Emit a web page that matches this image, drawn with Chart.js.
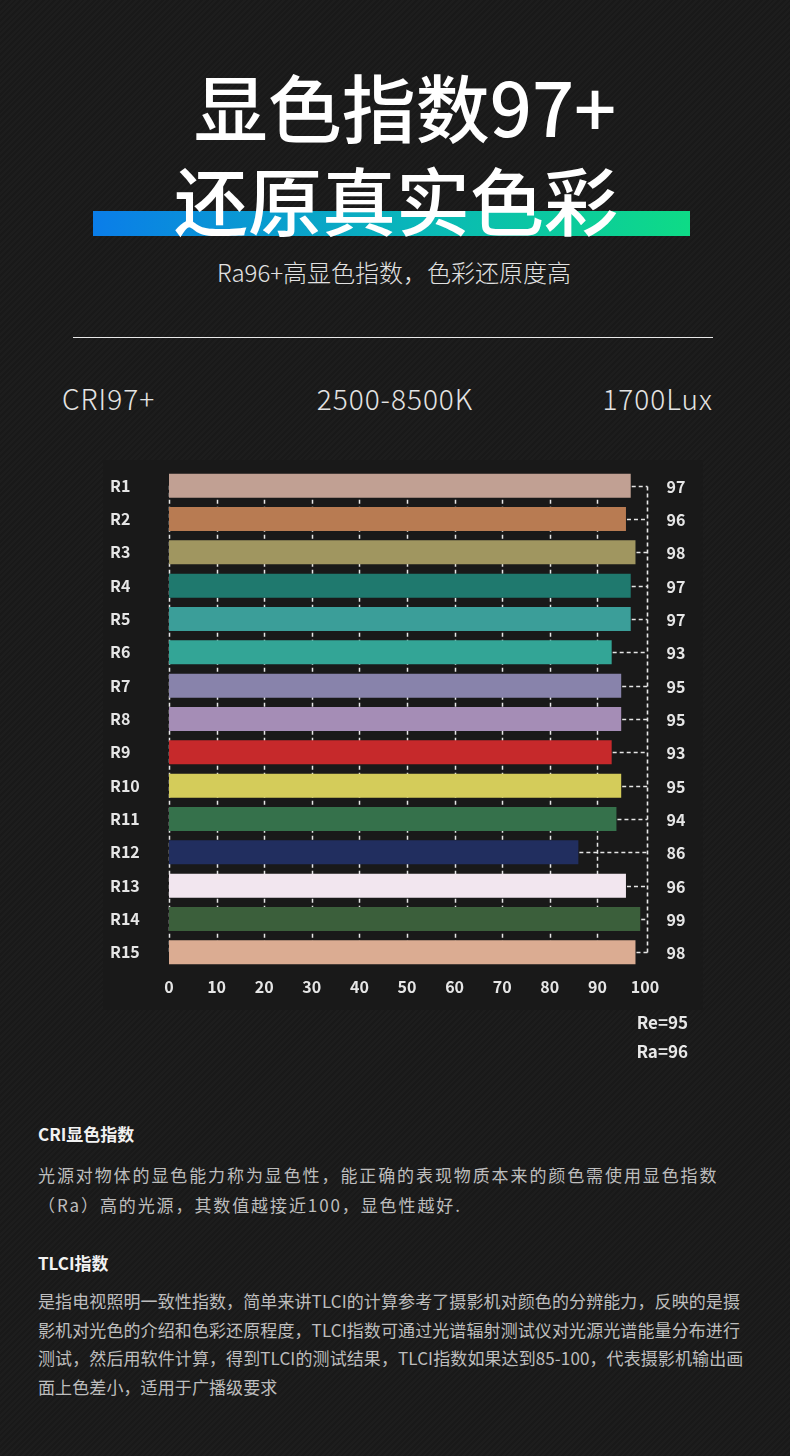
<!DOCTYPE html>
<html>
<head>
<meta charset="utf-8">
<script src="https://cdn.jsdelivr.net/npm/chart.js@4.4.1/dist/chart.umd.min.js"></script>
<style>
  html,body{margin:0;padding:0;}
  body{width:790px;height:1456px;position:relative;overflow:hidden;
    background-color:#1b1b1b;
    background-image:repeating-linear-gradient(135deg,#1d1d1d 0px,#1d1d1d 2px,#191919 2px,#191919 4px);
    font-family:"Noto Sans CJK SC","Noto Sans",sans-serif;color:#fff;}
  .abs{position:absolute;}
  .gbar{left:93px;top:211px;width:597px;height:25px;background:linear-gradient(90deg,#0a7de9 0%,#09b8b8 55%,#0edb86 100%);}
  .t1,.t2{left:0;width:790px;text-align:center;font-weight:500;font-size:74px;line-height:1;color:#fff;}
  .t1{top:68px;left:10px;}
  .t2{top:161px;left:1px;}
  .sub{top:256px;width:790px;text-align:center;font-size:24px;font-weight:300;color:#e2e2e2;line-height:32px;left:-1px;}
  .rule{left:73px;top:337px;width:640px;height:1px;background:#e8e8e8;}
  .stat{top:379px;font-size:28px;font-weight:300;letter-spacing:1px;color:#e4e4e4;line-height:38px;}
  .panel{left:103px;top:460px;width:600px;height:550px;background:#191919;}
  #wrap{left:0;top:450px;width:790px;height:560px;}
  .re{right:102px;font-size:17px;font-weight:700;color:#e8e8e8;line-height:24px;text-align:right;}
  .h{left:38px;font-size:17px;font-weight:700;color:#f2f2f2;line-height:24px;}
  .p{left:38px;font-size:17px;color:#bdbdbd;white-space:nowrap;}
</style>
</head>
<body>
<div class="abs panel"></div>
<div class="abs gbar"></div>
<div class="abs t1">显色指数97+</div>
<div class="abs t2">还原真实色彩</div>
<div class="abs sub">Ra96+高显色指数，色彩还原度高</div>
<div class="abs rule"></div>
<div class="abs stat" style="left:62px;">CRI97+</div>
<div class="abs stat" style="left:0;width:790px;text-align:center;">2500-8500K</div>
<div class="abs stat" style="right:77px;">1700Lux</div>
<div class="abs" id="wrap"><canvas id="c" width="790" height="560"></canvas></div>
<div class="abs re" style="top:1010px;">Re=95</div>
<div class="abs re" style="top:1039px;">Ra=96</div>

<div class="abs h" style="top:1122px;">CRI显色指数</div>
<div class="abs p" style="top:1160px;line-height:30px;letter-spacing:1.9px;">光源对物体的显色能力称为显色性，能正确的表现物质本来的颜色需使用显色指数<br>（Ra）高的光源，其数值越接近100，显色性越好.</div>
<div class="abs h" style="top:1251px;">TLCI指数</div>
<div class="abs p" style="top:1287px;line-height:28.5px;letter-spacing:0.1px;">是指电视照明一致性指数，简单来讲TLCI的计算参考了摄影机对颜色的分辨能力，反映的是摄<br>影机对光色的介绍和色彩还原程度，TLCI指数可通过光谱辐射测试仪对光源光谱能量分布进行<br>测试，然后用软件计算，得到TLCI的测试结果，TLCI指数如果达到85-100，代表摄影机输出画<br>面上色差小，适用于广播级要求</div>

<script>
const categories = ["R1","R2","R3","R4","R5","R6","R7","R8","R9","R10","R11","R12","R13","R14","R15"];
const values = [97,96,98,97,97,93,95,95,93,95,94,86,96,99,98];
const barColors = ["#c1a093","#b87b52","#a09660","#1f796e","#3b9e99","#33a596","#8883ab","#a58db6","#c6292b","#d4cc5a","#35714b","#212e5f","#f2e6ef","#3b5f3b","#dbac92"];
const xTicks = [0,10,20,30,40,50,60,70,80,90,100];
const gridValues = [0,10,20,30,40,50,60,70,80,90];

const FONT = "'Noto Sans CJK SC','Noto Sans',sans-serif";
Chart.defaults.font.family = FONT;

const gridPlugin = {
  id: 'dashGrid',
  beforeDatasetsDraw(chart) {
    const ctx = chart.ctx, xs = chart.scales.x;
    const meta = chart.getDatasetMeta(0);
    const first = meta.data[0], last = meta.data[meta.data.length - 1];
    const top = first.y, bottom = last.y;
    ctx.save();
    ctx.strokeStyle = '#e6e6e6';
    ctx.lineWidth = 1.5;
    ctx.setLineDash([4, 3]);
    gridValues.forEach(v => {
      const x = Math.round(xs.getPixelForValue(v)) + 0.5;
      ctx.beginPath();
      ctx.moveTo(x, top);
      ctx.lineTo(x, bottom);
      ctx.stroke();
    });
    ctx.restore();
  }
};

const connectorPlugin = {
  id: 'connectors',
  afterDatasetsDraw(chart) {
    const ctx = chart.ctx;
    const meta = chart.getDatasetMeta(0);
    const xs = chart.scales.x;
    const X = Math.round(xs.getPixelForValue(100)) + 2.5;
    ctx.save();
    ctx.strokeStyle = '#e6e6e6';
    ctx.lineWidth = 1.6;
    ctx.setLineDash([4, 3]);
    const ys = [];
    meta.data.forEach((bar) => {
      const y = Math.round(bar.y) + 0.5;
      ys.push(y);
      ctx.beginPath();
      ctx.moveTo(bar.x + 1, y);
      ctx.lineTo(X, y);
      ctx.stroke();
    });
    ctx.beginPath();
    ctx.moveTo(X, ys[0]);
    ctx.lineTo(X, ys[ys.length - 1]);
    ctx.stroke();
    ctx.setLineDash([]);
    ctx.fillStyle = '#e6e6e6';
    ctx.font = "700 16px " + FONT;
    ctx.textAlign = 'left';
    ctx.textBaseline = 'middle';
    meta.data.forEach((bar, i) => {
      ctx.fillText(String(values[i]), X + 19, bar.y + 1);
    });
    ctx.restore();
  }
};

new Chart(document.getElementById('c'), {
  type: 'bar',
  data: {
    labels: categories,
    datasets: [{
      data: values,
      backgroundColor: barColors,
      borderWidth: 0,
      categoryPercentage: 1,
      barPercentage: 0.72
    }]
  },
  options: {
    indexAxis: 'y',
    responsive: false,
    animation: false,
    events: [],
    layout: { padding: { left: 110, top: 19, right: 145, bottom: 0 } },
    plugins: { legend: { display: false }, tooltip: { enabled: false } },
    scales: {
      x: {
        min: 0, max: 100,
        afterBuildTicks(scale) { scale.ticks = xTicks.map(v => ({ value: v })); },
        afterFit(scale) { scale.height = 41; },
        border: { display: false },
        grid: { display: false, drawTicks: false },
        ticks: { color: '#e6e6e6', font: { size: 16, weight: '700' }, padding: 8, maxRotation: 0 }
      },
      y: {
        afterFit(scale) { scale.width = 59; },
        border: { display: false },
        grid: { display: false, drawTicks: false },
        ticks: { color: '#e6e6e6', font: { size: 16, weight: '700' }, crossAlign: 'far', padding: 0 }
      }
    }
  },
  plugins: [gridPlugin, connectorPlugin]
});
</script>
</body>
</html>
